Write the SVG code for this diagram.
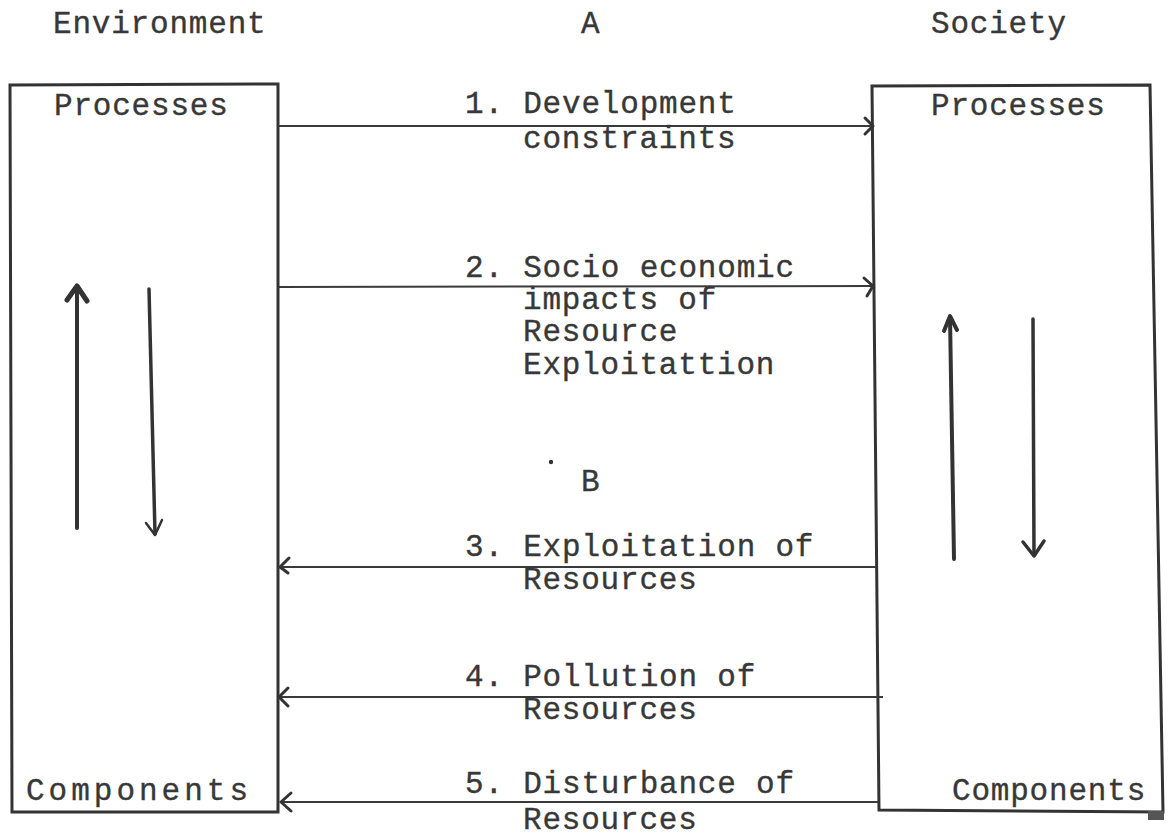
<svg xmlns="http://www.w3.org/2000/svg" width="1169" height="837" viewBox="0 0 1169 837">
  <style>
    .t { font-family: "Liberation Mono", "DejaVu Sans Mono", monospace; font-size: 31px; letter-spacing: 0.8px; fill: #383838; stroke: #383838; stroke-width: 0.35px; }
    .box { fill: none; stroke: #333; stroke-width: 3; stroke-linejoin: miter; }
    .ln { fill: none; stroke: #3a3a3a; stroke-width: 2; }
    .hd { fill: none; stroke: #333; stroke-width: 3; stroke-linecap: round; stroke-linejoin: round; }
    .vt { fill: none; stroke: #333; stroke-width: 4; stroke-linecap: round; stroke-linejoin: round; }
  </style>
  <rect width="1169" height="837" fill="#ffffff"/>

  <g id="titles">
    <text class="t" x="53" y="33">Environment</text>
    <text class="t" x="581" y="33">A</text>
    <text class="t" x="931" y="33">Society</text>
  </g>

  <g id="environment">
    <path class="box" d="M10,85 L278,84 L278,812 L12,812 Z"/>
    <text class="t" x="54" y="115">Processes</text>
    <text class="t" x="26" y="800" style="letter-spacing:4px">Components</text>
    <path class="vt" d="M77,528 L77,287"/>
    <path class="vt" d="M67,300 L77,286 L87,301" style="stroke-width:5"/>
    <path class="vt" d="M149,289 L155,534" style="stroke-width:3.5"/>
    <path class="hd" d="M146,523 L155,535 L162,520" style="stroke-width:2.5"/>
  </g>

  <g id="society">
    <path class="box" d="M872,86 L1150,85 L1163,812 L879,810 Z"/>
    <text class="t" x="931" y="115">Processes</text>
    <text class="t" x="952" y="800">Components</text>
    <path class="vt" d="M954,559 L950,317"/>
    <path class="vt" d="M944,331 L950,316 L957,330"/>
    <path class="vt" d="M1033,319 L1034,555" style="stroke-width:3.5"/>
    <path class="vt" d="M1023,542 L1034,556 L1044,541" style="stroke-width:3.5"/>
  </g>

  <g id="connectors">
    <path class="ln" d="M278,126 L872,126"/>
    <path class="hd" d="M865,118 L873,126 L865,134"/>
    <path class="ln" d="M278,287 L873,286"/>
    <path class="hd" d="M864,278 L873,286 L867,296"/>
    <path class="ln" d="M876,567 L278,567"/>
    <path class="hd" d="M289,558 L280,567 L288,573"/>
    <path class="ln" d="M883,697 L278,697"/>
    <path class="hd" d="M288,688 L279,697 L288,706"/>
    <path class="ln" d="M878,802 L280,802"/>
    <path class="hd" d="M291,793 L281,802 L291,811"/>
  </g>

  <g id="label-1">
    <text class="t" x="465" y="113">1. Development</text>
    <text class="t" x="523" y="148">constraints</text>
  </g>
  <g id="label-2">
    <text class="t" x="465" y="277">2. Socio economic</text>
    <text class="t" x="523" y="309">impacts of</text>
    <text class="t" x="523" y="341">Resource</text>
    <text class="t" x="523" y="374">Exploitattion</text>
  </g>
  <g id="label-B">
    <circle cx="551" cy="462" r="2.2" fill="#333"/>
    <text class="t" x="581" y="491">B</text>
  </g>
  <g id="label-3">
    <text class="t" x="465" y="556">3. Exploitation of</text>
    <text class="t" x="523" y="589">Resources</text>
  </g>
  <g id="label-4">
    <text class="t" x="465" y="686">4. Pollution of</text>
    <text class="t" x="523" y="719">Resources</text>
  </g>
  <g id="label-5">
    <text class="t" x="465" y="793">5. Disturbance of</text>
    <text class="t" x="523" y="829">Resources</text>
  </g>

  <rect x="1148" y="811" width="16" height="9" fill="#555"/>
</svg>
